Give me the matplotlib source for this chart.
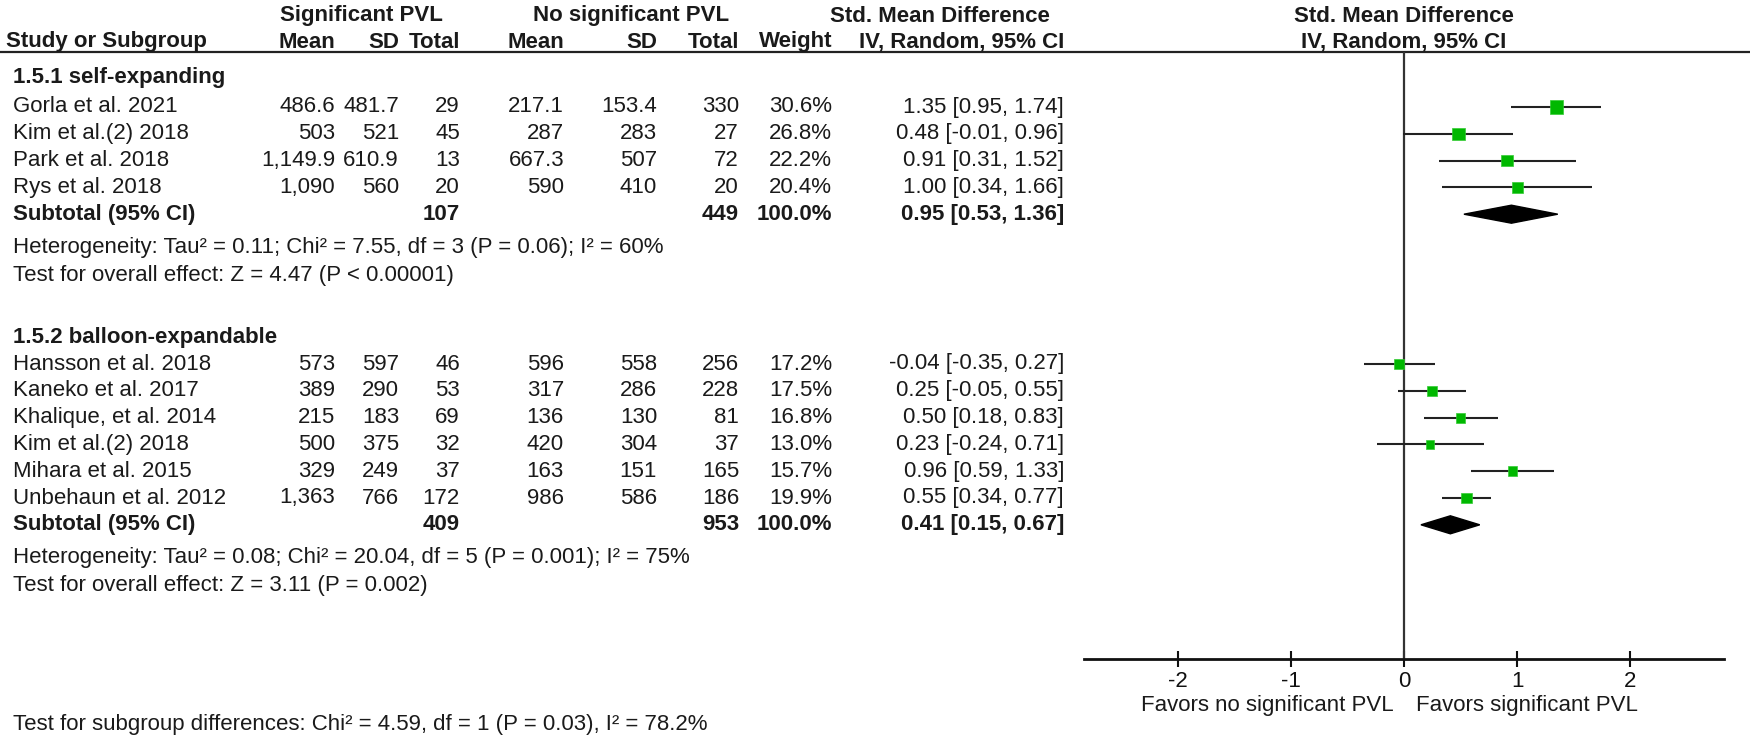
import matplotlib.pyplot as plt
import numpy as np

plt.rcParams['font.family'] = ['Liberation Sans', 'DejaVu Sans']

# ---- data ----
g1_title = '1.5.1 self-expanding'
g1_studies = ['Gorla et al. 2021', 'Kim et al.(2) 2018', 'Park et al. 2018', 'Rys et al. 2018']
g1_mean_sig = [486.6, 503, 1149.9, 1090]
g1_sd_sig = [481.7, 521, 610.9, 560]
g1_n_sig = [29, 45, 13, 20]
g1_mean_no = [217.1, 287, 667.3, 590]
g1_sd_no = [153.4, 283, 507, 410]
g1_n_no = [330, 27, 72, 20]
g1_weight = [30.6, 26.8, 22.2, 20.4]
g1_smd = [1.35, 0.48, 0.91, 1.00]
g1_lo = [0.95, -0.01, 0.31, 0.34]
g1_hi = [1.74, 0.96, 1.52, 1.66]
g1_sub = [0.95, 0.53, 1.36]
g1_het = 'Heterogeneity: Tau² = 0.11; Chi² = 7.55, df = 3 (P = 0.06); I² = 60%'
g1_test = 'Test for overall effect: Z = 4.47 (P < 0.00001)'

g2_title = '1.5.2 balloon-expandable'
g2_studies = ['Hansson et al. 2018', 'Kaneko et al. 2017', 'Khalique, et al. 2014',
              'Kim et al.(2) 2018', 'Mihara et al. 2015', 'Unbehaun et al. 2012']
g2_mean_sig = [573, 389, 215, 500, 329, 1363]
g2_sd_sig = [597, 290, 183, 375, 249, 766]
g2_n_sig = [46, 53, 69, 32, 37, 172]
g2_mean_no = [596, 317, 136, 420, 163, 986]
g2_sd_no = [558, 286, 130, 304, 151, 586]
g2_n_no = [256, 228, 81, 37, 165, 186]
g2_weight = [17.2, 17.5, 16.8, 13.0, 15.7, 19.9]
g2_smd = [-0.04, 0.25, 0.50, 0.23, 0.96, 0.55]
g2_lo = [-0.35, -0.05, 0.18, -0.24, 0.59, 0.34]
g2_hi = [0.27, 0.55, 0.83, 0.71, 1.33, 0.77]
g2_sub = [0.41, 0.15, 0.67]
g2_het = 'Heterogeneity: Tau² = 0.08; Chi² = 20.04, df = 5 (P = 0.001); I² = 75%'
g2_test = 'Test for overall effect: Z = 3.11 (P = 0.002)'

subgroup_test = 'Test for subgroup differences: Chi² = 4.59, df = 1 (P = 0.03), I² = 78.2%'
xticks = [-2, -1, 0, 1, 2]
left_favor = 'Favors no significant PVL'
right_favor = 'Favors significant PVL'

# ---- layout (pixels) ----
W, H = 1750, 736
fs = 16
txt = '#1a1a1a'
green = '#00B800'
col_x = [335, 399, 460, 564, 657, 739, 832, 1064]
row_h = 26.8

fig = plt.figure(figsize=(W / 100, H / 100), dpi=100)
ax = fig.add_axes([0, 0, 1, 1])
ax.set_xlim(0, W)
ax.set_ylim(H, 0)
ax.axis('off')

# headers
ax.text(361, 16, 'Significant PVL', ha='center', va='center', fontsize=fs, fontweight='bold', color=txt)
ax.text(631, 16, 'No significant PVL', ha='center', va='center', fontsize=fs, fontweight='bold', color=txt)
ax.text(940, 16, 'Std. Mean Difference', ha='center', va='center', fontsize=fs, fontweight='bold', color=txt)
ax.text(1404, 16, 'Std. Mean Difference', ha='center', va='center', fontsize=fs, fontweight='bold', color=txt)
ax.text(6, 42, 'Study or Subgroup', ha='left', va='center', fontsize=fs, fontweight='bold', color=txt)
heads = ['Mean', 'SD', 'Total', 'Mean', 'SD', 'Total', 'Weight', 'IV, Random, 95% CI']
for x, h in zip(col_x, heads):
    ax.text(x, 42, h, ha='right', va='center', fontsize=fs, fontweight='bold', color=txt)
ax.text(1404, 42, 'IV, Random, 95% CI', ha='center', va='center', fontsize=fs, fontweight='bold', color=txt)
ax.axhline(52, color='#222222', lw=1.6)

def fmt(v):
    return f'{v:,}'

def draw_group(y0, gap, title, studies, ms, ss, ns, mn, sn, nn, wt, smd, lo, hi, sub, het, test):
    ax.text(13, y0, title, ha='left', va='center', fontsize=fs, fontweight='bold', color=txt)
    ys = y0 + gap + row_h * np.arange(len(studies))
    for i, y in enumerate(ys):
        cells = [fmt(ms[i]), fmt(ss[i]), str(ns[i]), fmt(mn[i]), fmt(sn[i]), str(nn[i]),
                 f'{wt[i]:.1f}%', f'{smd[i]:.2f} [{lo[i]:.2f}, {hi[i]:.2f}]']
        ax.text(13, y, studies[i], ha='left', va='center', fontsize=fs, color=txt)
        for x, c in zip(col_x, cells):
            ax.text(x, y, c, ha='right', va='center', fontsize=fs, color=txt)
    ysub = ys[-1] + row_h
    ax.text(13, ysub, 'Subtotal (95% CI)', ha='left', va='center', fontsize=fs, fontweight='bold', color=txt)
    ax.text(col_x[2], ysub, str(sum(ns)), ha='right', va='center', fontsize=fs, fontweight='bold', color=txt)
    ax.text(col_x[5], ysub, str(sum(nn)), ha='right', va='center', fontsize=fs, fontweight='bold', color=txt)
    ax.text(col_x[6], ysub, '100.0%', ha='right', va='center', fontsize=fs, fontweight='bold', color=txt)
    ax.text(col_x[7], ysub, f'{sub[0]:.2f} [{sub[1]:.2f}, {sub[2]:.2f}]', ha='right', va='center',
            fontsize=fs, fontweight='bold', color=txt)
    ax.text(13, ysub + 33, het, ha='left', va='center', fontsize=fs, color=txt)
    ax.text(13, ysub + 61, test, ha='left', va='center', fontsize=fs, color=txt)
    return ys, ysub

ys1, ysub1 = draw_group(78, 29, g1_title, g1_studies, g1_mean_sig, g1_sd_sig, g1_n_sig, g1_mean_no,
                        g1_sd_no, g1_n_no, g1_weight, g1_smd, g1_lo, g1_hi, g1_sub, g1_het, g1_test)
ys2, ysub2 = draw_group(337, 27, g2_title, g2_studies, g2_mean_sig, g2_sd_sig, g2_n_sig, g2_mean_no,
                        g2_sd_no, g2_n_no, g2_weight, g2_smd, g2_lo, g2_hi, g2_sub, g2_het, g2_test)

ax.text(13, 730, subgroup_test, ha='left', va='baseline', fontsize=fs, color=txt)

# ---- forest plot ----
x0, x1 = 1084, 1724
ytop, ybot = 52, 659
fx = fig.add_axes([x0 / W, 1 - ybot / H, (x1 - x0) / W, (ybot - ytop) / H])
fx.set_facecolor('none')
fx.set_xlim(-2.83, 2.83)
fx.set_ylim(ybot, ytop)
for s in ['top', 'left', 'right']:
    fx.spines[s].set_visible(False)
fx.spines['bottom'].set_linewidth(2)
fx.spines['bottom'].set_color('#111111')
fx.set_yticks([])
fx.set_xticks(xticks)
fx.set_xticklabels([str(t) for t in xticks])
fx.tick_params(axis='x', direction='inout', length=11, width=1.5, labelsize=fs, pad=3, colors='#111111')
fx.axvline(0, color='#333333', lw=1.6)

for ys, smd, lo, hi, wt, sub, ysub in [(ys1, g1_smd, g1_lo, g1_hi, g1_weight, g1_sub, ysub1),
                                       (ys2, g2_smd, g2_lo, g2_hi, g2_weight, g2_sub, ysub2)]:
    fx.hlines(ys, lo, hi, color='#222222', lw=1.5)
    fx.scatter(smd, ys, marker='s', s=np.array(wt) * 3.0, color=green, edgecolors='#33cc33',
               linewidths=0.5, zorder=3)
    dx = [sub[1], sub[0], sub[2], sub[0]]
    dy = [ysub, ysub - 9, ysub, ysub + 9]
    fx.fill(dx, dy, color='black', zorder=3)

fig.text((1404 - 10) / W, 1 - 706 / H, left_favor, ha='right', va='center', fontsize=fs, color=txt)
fig.text((1404 + 12) / W, 1 - 706 / H, right_favor, ha='left', va='center', fontsize=fs, color=txt)

fig.savefig('out.png', dpi=100)
